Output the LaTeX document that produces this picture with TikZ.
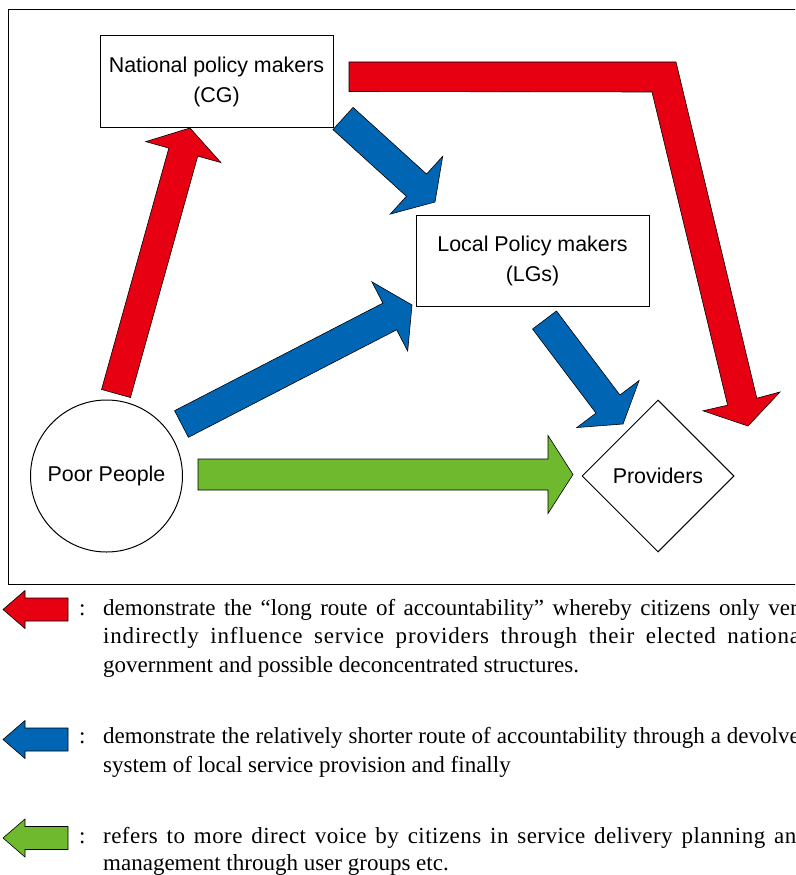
\documentclass[tikz,border=0pt]{standalone}
\usepackage{fontspec}
\setmainfont{Liberation Serif}
\newfontfamily\sansf{Liberation Sans}
\usetikzlibrary{calc,shapes.geometric}
\definecolor{ared}{RGB}{230,0,18}
\definecolor{ablue}{RGB}{0,102,179}
\definecolor{agreen}{RGB}{110,185,45}
% #1 colour, #2 tail coord, #3 tip coord, #4 half shaft width, #5 half head width, #6 head length
\newcommand\blockarrow[6]{%
  \coordinate (hb) at ($(#3)!#6!(#2)$);
  \filldraw[fill=#1, draw=black, line width=0.6pt, line join=miter]
    ($(#2)!#4!90:(#3)$) -- ($(hb)!#4!90:(#3)$) -- ($(hb)!#5!90:(#3)$) -- (#3)
    -- ($(hb)!#5!-90:(#3)$) -- ($(hb)!#4!-90:(#3)$) -- ($(#2)!#4!-90:(#3)$) -- cycle;}
\begin{document}
\begin{tikzpicture}[x=1pt,y=-1pt,
  lbl/.style={font=\sansf\fontsize{21.4}{30}\selectfont, align=center, inner sep=0pt},
  box/.style={lbl, draw, line width=1pt, rectangle, minimum width=233pt, minimum height=91pt},
  legtext/.style={anchor=base west, inner sep=0pt, font=\fontsize{23}{28}\selectfont}]
\useasboundingbox (0,0) rectangle (795,875);
\clip (0,0) rectangle (795,875);
% frame
\draw[line width=1pt] (8,10) rectangle (840,584);
% nodes
\node[box] (ncg) at (216.5,81.5) {National policy makers\\(CG)};
\node[box] (llg) at (532.5,260.5) {Local Policy makers\\(LGs)};
\node[lbl, draw, line width=1pt, circle, minimum size=152pt] (poor) at (106.5,476) {Poor People};
\node[lbl, draw, line width=1pt, diamond, minimum width=152pt, minimum height=152pt, inner sep=0pt] (prov) at (658,476) {Providers};
% arrow end points
\coordinate (r1a) at (116,393.5);   \coordinate (r1b) at (190,128);
\coordinate (b1a) at (343,118.5);   \coordinate (b1b) at (435,202);
\coordinate (b2a) at (181.5,424);   \coordinate (b2b) at (412,305);
\coordinate (b3a) at (544.5,320);   \coordinate (b3b) at (623,424);
\coordinate (g1a) at (198,474.5);   \coordinate (g1b) at (573,474.5);
% arrows
\blockarrow{ared}{r1a}{r1b}{15pt}{39pt}{25pt}
\blockarrow{ablue}{b1a}{b1b}{15pt}{39pt}{25pt}
\blockarrow{ablue}{b2a}{b2b}{15pt}{39pt}{25pt}
\blockarrow{ablue}{b3a}{b3b}{15pt}{39pt}{25pt}
\blockarrow{agreen}{g1a}{g1b}{15.5pt}{39pt}{25pt}
% bent red arrow
\filldraw[fill=ared, draw=black, line width=0.6pt, line join=miter]
  (349,62) -- (676,62) -- (756.8,398.2) -- (780,392) -- (748,426)
  -- (703,410.8) -- (727.6,405.2) -- (652,92) -- (349,91.5) -- cycle;
% legend
\coordinate (lra) at (68,609.5);  \coordinate (lrb) at (3,609.5);
\coordinate (lba) at (68,739.5);  \coordinate (lbb) at (3,739.5);
\coordinate (lga) at (68,838);    \coordinate (lgb) at (3,838);
\blockarrow{ared}{lra}{lrb}{11.5pt}{19pt}{22pt}
\blockarrow{ablue}{lba}{lbb}{11.5pt}{19pt}{22pt}
\blockarrow{agreen}{lga}{lgb}{11.5pt}{19pt}{22pt}
\node[legtext] (c1) at (79,615) {:};
\node[legtext] (c2) at (79,743) {:};
\node[legtext] (c3) at (79,843) {:};
\node[legtext] (t11) at (103,615) {\makebox[706pt][s]{demonstrate the “long route of accountability” whereby citizens only very}};
\node[legtext] (t12) at (103,643) {\makebox[704pt][s]{\addfontfeatures{LetterSpace=3.6}indirectly influence service providers through their elected national}};
\node[legtext] (t13) at (103,672) {government and possible deconcentrated structures.};
\node[legtext] (t21) at (103,743) {\makebox[708pt][s]{demonstrate the relatively shorter route of accountability through a devolved}};
\node[legtext] (t22) at (103,772) {system of local service provision and finally};
\node[legtext] (t31) at (103,843) {\makebox[705pt][s]{\addfontfeatures{LetterSpace=2}refers to more direct voice by citizens in service delivery planning and}};
\node[legtext] (t32) at (103,870) {management through user groups etc.};
\end{tikzpicture}
\end{document}
